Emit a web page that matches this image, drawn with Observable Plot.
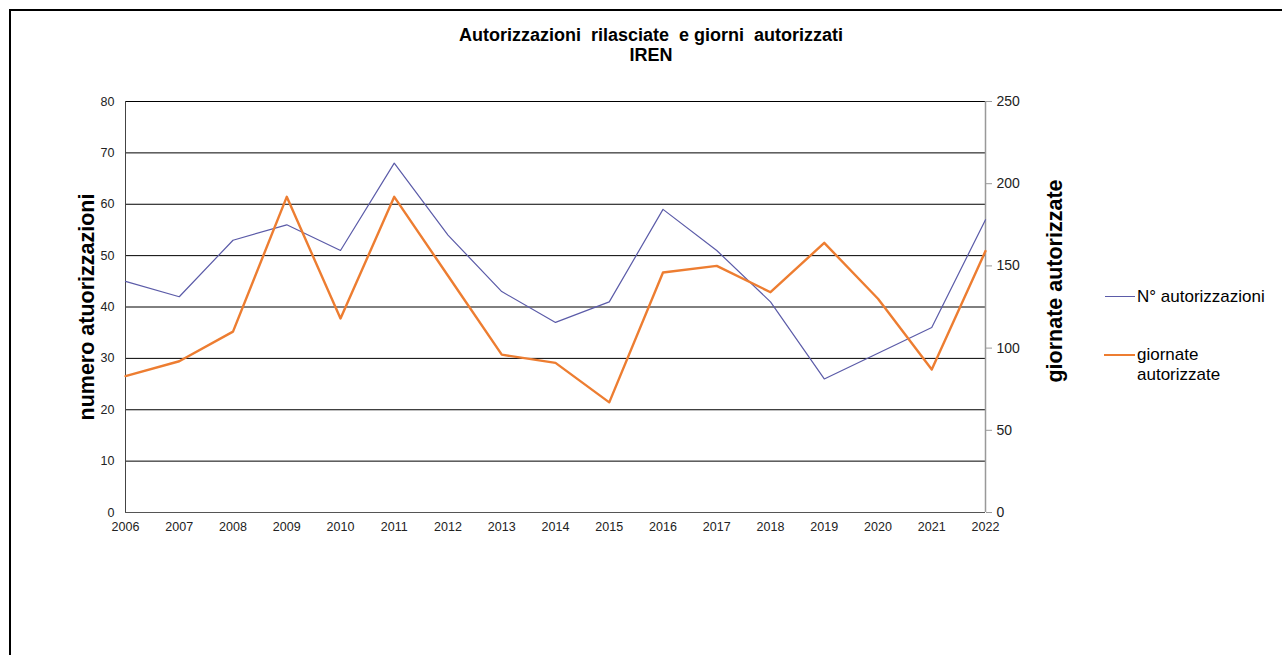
<!DOCTYPE html>
<html>
<head>
<meta charset="utf-8">
<script src="https://cdn.jsdelivr.net/npm/d3@7"></script>
<script src="https://cdn.jsdelivr.net/npm/@observablehq/plot@0.6"></script>
<style>
  html, body { margin: 0; padding: 0; background: #fff; overflow: hidden; }
  body { font-family: "Liberation Sans", Arial, sans-serif; }
  #wrap { position: relative; width: 1282px; height: 655px; }
  #frame { position: absolute; left: 9px; top: 9px; width: 1290px; height: 660px;
           border-top: 2px solid #000; border-left: 2px solid #000; }
  #chart { position: absolute; left: 0; top: 0; }
  .title { position: absolute; left: 0; width: 1302px; text-align: center; font-weight: bold;
           font-size: 18px; line-height: 20px; color: #000; white-space: pre; }
  .leg { position: absolute; font-size: 17px; color: #000; line-height: 20px; }
  .legline { position: absolute; height: 0; }
</style>
</head>
<body>
<div id="wrap">
  <div id="frame"></div>
  <div id="chart"></div>
  <div class="title" style="top:25px">Autorizzazioni  rilasciate  e giorni  autorizzati</div>
  <div class="title" style="top:45px">IREN</div>
  <div class="legline" style="left:1105px; top:296px; width:30px; border-top:1.5px solid #5b5ba8"></div>
  <div class="leg" style="left:1137px; top:287px">N° autorizzazioni</div>
  <div class="legline" style="left:1104px; top:354px; width:31px; border-top:2px solid #ed7d31"></div>
  <div class="leg" style="left:1137px; top:345px">giornate<br>autorizzate</div>
</div>
<script>
const years = [2006, 2007, 2008, 2009, 2010, 2011, 2012, 2013, 2014, 2015, 2016, 2017, 2018, 2019, 2020, 2021, 2022];
const autorizzazioni = [45, 42, 53, 56, 51, 68, 54, 43, 37, 41, 59, 51, 41, 26, 31, 36, 57];
const giornate = [83, 92, 110, 192, 118, 192, 144, 96, 91, 67, 146, 150, 134, 164, 130, 87, 159];
const leftTicks = [0, 10, 20, 30, 40, 50, 60, 70, 80];
const rightTicks = [0, 50, 100, 150, 200, 250];
const leftTitle = "numero atuorizzazioni";
const rightTitle = "giornate autorizzate";

const leftMax = 80, rightMax = 250;
const toLeft = v => v * leftMax / rightMax;
const data = years.map((year, i) => ({year, n: autorizzazioni[i], g: giornate[i]}));

const chart = Plot.plot({
  width: 1282,
  height: 655,
  marginLeft: 125,
  marginRight: 297,
  marginTop: 101,
  marginBottom: 143,
  style: {fontFamily: '"Liberation Sans", Arial, sans-serif', fontSize: "12px", color: "#222", background: "transparent"},
  x: {domain: [years[0], years[years.length - 1]]},
  y: {domain: [0, leftMax]},
  marks: [
    Plot.gridY(leftTicks.filter(t => t > 0), {stroke: "#000", strokeOpacity: 1, strokeWidth: 1}),
    Plot.ruleY([0], {stroke: "#555", strokeWidth: 1}),
    Plot.ruleX([years[0]], {stroke: "#444", strokeWidth: 1}),
    Plot.ruleX([years[years.length - 1]], {stroke: "#999", strokeWidth: 1.5}),
    Plot.axisY(leftTicks, {tickSize: 0, tickPadding: 11, label: null, fontSize: 12.5}),
    Plot.axisY(rightTicks.map(toLeft), {anchor: "right", tickSize: 6, tickPadding: 5, stroke: "#999",
      tickFormat: d => String(Math.round(d * rightMax / leftMax)), label: null, fontSize: 14}),
    Plot.axisX(years, {tickSize: 0, tickPadding: 10, tickFormat: "d", label: null, fontSize: 12.5}),
    Plot.line(data, {x: "year", y: "n", stroke: "#5b5ba8", strokeWidth: 1.2}),
    Plot.line(data, {x: "year", y: d => toLeft(d.g), stroke: "#ed7d31", strokeWidth: 2.4}),
    Plot.text([leftTitle], {frameAnchor: "left", text: d => d, rotate: -90, dx: -38, dy: 0,
      textAnchor: "middle", fontSize: 21.5, fontWeight: "bold", fill: "#000"}),
    Plot.text([rightTitle], {frameAnchor: "right", text: d => d, rotate: -90, dx: 70, dy: -26,
      textAnchor: "middle", fontSize: 21.5, fontWeight: "bold", fill: "#000"})
  ]
});
document.getElementById("chart").appendChild(chart);
</script>
</body>
</html>
